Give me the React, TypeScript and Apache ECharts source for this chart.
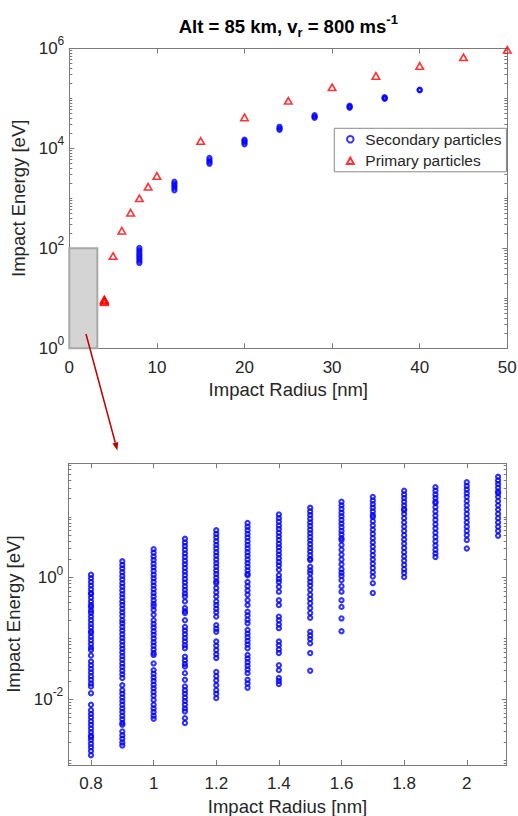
import React, { useEffect, useRef } from 'react';
import * as echarts from 'echarts';

const FONT = '"Liberation Sans", Arial, Helvetica, sans-serif';
const BLUE = '#0000ff';
const RED = '#ff0000';
const AXIS_COLOR = '#7a7a7a';
const TEXT_COLOR = '#262626';

const TITLE_TEXT = 'Alt = 85 km, v{sub|r} = 800 ms{sup|-1}';
const X_NAME = 'Impact Radius [nm]';
const Y_NAME = 'Impact Energy [eV]';
const LEGEND_NAMES = ['Secondary particles', 'Primary particles'];

// ---------- top panel ----------
const topXTicks = [0, 10, 20, 30, 40, 50];
const topYExpTicks = [0, 2, 4, 6]; // 10^0 ... 10^6

const primaryRadius = [4, 4, 4, 4, 5, 6, 7, 8, 9, 10, 15, 20, 25, 30, 35, 40, 45, 50];
const primaryEnergy = [8.3, 8.7, 9.1, 9.5, 70, 224, 515, 1000, 1700, 2800, 14000, 41500, 89000, 166000, 280000, 445000, 660000, 930000];

const secondaryRadiusTop = [8, 12, 16, 20, 24, 28, 32, 36, 40];
const secondaryEnergyTop = [
  [51, 56, 62, 68, 75, 83, 92, 102],
  [1450, 1600, 1770, 1950, 2150],
  [4900, 5300, 5800, 6400],
  [12000, 13000, 14000, 14800],
  [23400, 25000, 26900],
  [40700, 43000, 45700],
  [64600, 67500, 70800],
  [97700, 101000, 104700],
  [145000, 148000],
];

const zoomBoxRadius = [0, 3.2];
const zoomBoxEnergy = [1, 100];

// ---------- bottom panel (log10 of impact energy in eV) ----------
const bottomXTicks = [0.8, 1, 1.2, 1.4, 1.6, 1.8, 2];
const bottomYExpTicks = [-2, 0];
const bottomRadius = [0.8, 0.9, 1.0, 1.1, 1.2, 1.3, 1.4, 1.5, 1.6, 1.7, 1.8, 1.9, 2.0, 2.1];

const log10E_08 = [0.05, -0.01, -0.07, -0.13, -0.19, -0.25, -0.27, -0.33, -0.39, -0.45, -0.48, -0.54, -0.58, -0.64, -0.70, -0.76, -0.82, -0.88, -0.91, -0.97, -1.03, -1.09, -1.15, -1.19, -1.28, -1.38, -1.44, -1.50, -1.56, -1.62, -1.68, -1.74, -1.79, -1.90, -2.09, -2.18, -2.24, -2.30, -2.36, -2.42, -2.48, -2.54, -2.60, -2.62, -2.67, -2.73, -2.79, -2.85, -2.92];
const log10E_09 = [0.27, 0.21, 0.15, 0.09, 0.03, -0.03, -0.09, -0.15, -0.21, -0.27, -0.33, -0.39, -0.45, -0.51, -0.57, -0.63, -0.70, -0.75, -0.81, -0.87, -0.93, -0.99, -1.05, -1.11, -1.17, -1.23, -1.29, -1.35, -1.41, -1.47, -1.53, -1.59, -1.65, -1.77, -1.85, -1.91, -1.97, -2.03, -2.09, -2.15, -2.21, -2.27, -2.33, -2.39, -2.42, -2.53, -2.59, -2.65, -2.71, -2.76];
const log10E_10 = [0.47, 0.41, 0.35, 0.29, 0.23, 0.17, 0.11, 0.05, -0.01, -0.07, -0.13, -0.19, -0.25, -0.31, -0.37, -0.43, -0.47, -0.53, -0.61, -0.70, -0.76, -0.82, -0.88, -0.94, -1.00, -1.06, -1.12, -1.18, -1.24, -1.27, -1.41, -1.52, -1.58, -1.64, -1.70, -1.76, -1.82, -1.88, -1.94, -2.01, -2.09, -2.15, -2.21, -2.27, -2.32];
const log10E_11 = [0.64, 0.58, 0.52, 0.46, 0.40, 0.34, 0.28, 0.22, 0.16, 0.10, 0.04, -0.02, -0.08, -0.14, -0.20, -0.26, -0.31, -0.39, -0.50, -0.55, -0.58, -0.70, -0.81, -0.87, -0.93, -0.99, -1.05, -1.11, -1.16, -1.30, -1.36, -1.42, -1.46, -1.57, -1.68, -1.79, -1.85, -1.91, -1.97, -2.03, -2.09, -2.15, -2.20, -2.31, -2.39];
const log10E_12 = [0.78, 0.72, 0.66, 0.60, 0.54, 0.48, 0.42, 0.36, 0.30, 0.24, 0.18, 0.12, 0.06, 0.00, -0.06, -0.09, -0.17, -0.24, -0.31, -0.39, -0.45, -0.51, -0.57, -0.64, -0.78, -0.84, -0.89, -1.05, -1.12, -1.19, -1.26, -1.32, -1.55, -1.62, -1.69, -1.77, -1.85, -1.91, -1.98];
const log10E_13 = [0.90, 0.84, 0.78, 0.72, 0.66, 0.60, 0.54, 0.48, 0.42, 0.36, 0.30, 0.24, 0.18, 0.12, 0.06, 0.04, -0.07, -0.14, -0.21, -0.28, -0.37, -0.45, -0.56, -0.62, -0.69, -0.75, -0.86, -0.92, -0.98, -1.04, -1.10, -1.16, -1.27, -1.33, -1.39, -1.45, -1.51, -1.57, -1.68, -1.74, -1.81];
const log10E_14 = [1.04, 0.98, 0.92, 0.86, 0.80, 0.74, 0.68, 0.62, 0.56, 0.50, 0.44, 0.38, 0.32, 0.26, 0.20, 0.13, 0.04, -0.02, -0.07, -0.15, -0.23, -0.37, -0.45, -0.64, -0.70, -0.77, -0.83, -1.05, -1.11, -1.18, -1.24, -1.44, -1.52, -1.65, -1.70, -1.75];
const log10E_15 = [1.15, 1.09, 1.03, 0.97, 0.91, 0.85, 0.79, 0.73, 0.67, 0.61, 0.55, 0.49, 0.43, 0.37, 0.31, 0.29, 0.18, 0.12, 0.07, -0.01, -0.07, -0.13, -0.20, -0.28, -0.35, -0.42, -0.50, -0.58, -0.66, -0.89, -0.95, -1.01, -1.08, -1.24, -1.53];
const log10E_16 = [1.25, 1.19, 1.13, 1.07, 1.01, 0.95, 0.89, 0.83, 0.77, 0.71, 0.65, 0.62, 0.54, 0.46, 0.38, 0.30, 0.22, 0.14, 0.08, 0.03, -0.04, -0.14, -0.23, -0.37, -0.48, -0.67, -0.88];
const log10E_17 = [1.33, 1.27, 1.21, 1.15, 1.09, 1.03, 1.00, 0.93, 0.86, 0.79, 0.72, 0.65, 0.58, 0.51, 0.44, 0.37, 0.30, 0.23, 0.16, 0.09, 0.02, -0.09, -0.25];
const log10E_18 = [1.43, 1.37, 1.31, 1.25, 1.19, 1.13, 1.11, 1.05, 0.98, 0.91, 0.84, 0.77, 0.70, 0.63, 0.56, 0.49, 0.42, 0.35, 0.28, 0.21, 0.14, 0.08, 0.01];
const log10E_19 = [1.49, 1.43, 1.37, 1.31, 1.25, 1.23, 1.16, 1.09, 1.02, 0.95, 0.88, 0.81, 0.74, 0.67, 0.60, 0.53, 0.46, 0.40, 0.34];
const log10E_20 = [1.57, 1.51, 1.45, 1.39, 1.33, 1.26, 1.19, 1.12, 1.05, 0.98, 0.91, 0.84, 0.77, 0.70, 0.62, 0.48];
const log10E_21 = [1.66, 1.60, 1.54, 1.48, 1.42, 1.39, 1.33, 1.26, 1.19, 1.12, 1.05, 0.98, 0.91, 0.84, 0.77, 0.69];

const bottomColumns = [log10E_08, log10E_09, log10E_10, log10E_11, log10E_12, log10E_13, log10E_14, log10E_15, log10E_16, log10E_17, log10E_18, log10E_19, log10E_20, log10E_21];

// ---------- helpers ----------
function minorLogTicks(lo: number, hi: number, majors: number[]) {
  const out: number[] = [];
  for (let n = Math.floor(lo) - 1; n <= Math.ceil(hi); n++) {
    for (let k = 1; k <= 9; k++) {
      const v = n + Math.log10(k);
      if (v < lo || v > hi) continue;
      if (majors.some((m) => Math.abs(m - v) < 1e-9)) continue;
      out.push(v);
    }
  }
  return out;
}

const supLabelRich = {
  sup: { fontSize: 12, fontFamily: FONT, color: TEXT_COLOR, verticalAlign: 'top', lineHeight: 13 },
};

function buildOption() {
  const topYMin = 0, topYMax = 6;
  const botYMin = -3.081, botYMax = 1.882;
  const botXMin = 0.7275, botXMax = 2.1275;

  const primaryData = primaryRadius.map((r, i) => [r, Math.log10(primaryEnergy[i])]);
  const secondaryTopData: number[][] = [];
  secondaryRadiusTop.forEach((r, i) => secondaryEnergyTop[i].forEach((e) => secondaryTopData.push([r, Math.log10(e)])));
  const bottomData: number[][] = [];
  bottomRadius.forEach((r, i) => bottomColumns[i].forEach((l) => bottomData.push([r, l])));

  const lineStyle = { color: AXIS_COLOR, width: 1 };
  const xLabelStyle = { fontSize: 17, color: TEXT_COLOR, fontFamily: FONT };
  const nameStyle = { fontSize: 18.5, color: TEXT_COLOR, fontFamily: FONT };

  const makeX = (gridIndex: number, min: number, max: number, ticks: number[], position: string, labels: boolean, margin: number) => ({
    type: 'value', gridIndex, min, max, position,
    axisLine: { show: true, onZero: false, lineStyle },
    axisTick: { show: true, inside: true, length: 5, customValues: ticks, lineStyle },
    axisLabel: labels
      ? { show: true, customValues: ticks, margin, ...xLabelStyle, formatter: (v: number) => String(Math.round(v * 10) / 10) }
      : { show: false },
    splitLine: { show: false },
    ...(labels ? { name: X_NAME, nameLocation: 'middle', nameGap: 32, nameTextStyle: nameStyle } : {}),
  });

  const makeY = (gridIndex: number, min: number, max: number, ticks: number[], position: string, labels: boolean, tickLen: number, showLine: boolean, nameGap: number) => ({
    type: 'value', gridIndex, min, max, position,
    axisLine: { show: showLine, onZero: false, lineStyle },
    axisTick: { show: true, inside: true, length: tickLen, customValues: ticks, lineStyle },
    axisLabel: labels
      ? {
          show: true, customValues: ticks, margin: 5, fontSize: 17, lineHeight: 26, color: TEXT_COLOR, fontFamily: FONT,
          formatter: (v: number) => '10{sup|' + String(Math.round(v)) + '}',
          rich: supLabelRich,
        }
      : { show: false },
    splitLine: { show: false },
    ...(labels ? { name: Y_NAME, nameLocation: 'middle', nameGap, nameTextStyle: nameStyle } : {}),
  });

  const topMinor = minorLogTicks(topYMin, topYMax, topYExpTicks);
  const botMinor = minorLogTicks(botYMin, botYMax, bottomYExpTicks);

  const ringStyle = { color: 'transparent', borderColor: BLUE, borderWidth: 2.1 };

  return {
    animation: false,
    backgroundColor: '#ffffff',
    textStyle: { fontFamily: FONT },
    grid: [
      { left: 69.3, top: 48.3, width: 438, height: 300, outerBoundsMode: 'none', containLabel: false },
      { left: 68.3, top: 463.3, width: 438.4, height: 301.7, outerBoundsMode: 'none', containLabel: false },
    ],
    xAxis: [
      makeX(0, 0, 50, topXTicks, 'bottom', true, 11),
      makeX(0, 0, 50, topXTicks, 'top', false, 0),
      makeX(1, botXMin, botXMax, bottomXTicks, 'bottom', true, 9.5),
      makeX(1, botXMin, botXMax, bottomXTicks, 'top', false, 0),
    ],
    yAxis: [
      makeY(0, topYMin, topYMax, topYExpTicks, 'left', true, 5, true, 32),
      makeY(0, topYMin, topYMax, topYExpTicks, 'right', false, 5, true, 0),
      makeY(0, topYMin, topYMax, topMinor, 'left', false, 3, false, 0),
      makeY(0, topYMin, topYMax, topMinor, 'right', false, 3, false, 0),
      makeY(1, botYMin, botYMax, bottomYExpTicks, 'left', true, 5, true, 39),
      makeY(1, botYMin, botYMax, bottomYExpTicks, 'right', false, 5, true, 0),
      makeY(1, botYMin, botYMax, botMinor, 'left', false, 3, false, 0),
      makeY(1, botYMin, botYMax, botMinor, 'right', false, 3, false, 0),
    ],
    legend: {
      data: LEGEND_NAMES,
      orient: 'vertical',
      left: 334.3,
      top: 128.3,
      padding: [2, 5, 2, 11.5],
      itemGap: 3.5,
      itemWidth: 7,
      itemHeight: 6.5,
      borderColor: '#8a8a8a',
      borderWidth: 1,
      borderRadius: 0,
      backgroundColor: '#ffffff',
      selectedMode: false,
      textStyle: { fontSize: 15.5, lineHeight: 18, color: TEXT_COLOR, fontFamily: FONT, padding: [0, 0, 0, 6.5] },
    },
    graphic: [
      {
        type: 'text',
        x: 288.3,
        y: 26,
        z: 100,
        style: {
          text: TITLE_TEXT,
          fill: '#000000',
          fontSize: 18.5,
          fontWeight: 'bold',
          fontFamily: FONT,
          lineHeight: 26,
          align: 'center',
          verticalAlign: 'middle',
          rich: {
            sub: { fontSize: 13, fontWeight: 'bold', fontFamily: FONT, fill: '#000', verticalAlign: 'bottom', lineHeight: 11 },
            sup: { fontSize: 13, fontWeight: 'bold', fontFamily: FONT, fill: '#000', verticalAlign: 'top', lineHeight: 12 },
          },
        },
      },
      {
        type: 'line',
        z: 100,
        shape: { x1: 86, y1: 334, x2: 115.3, y2: 442.8 },
        style: { stroke: '#c00000', lineWidth: 1.5 },
      },
      {
        type: 'polygon',
        z: 100,
        shape: { points: [[117.4, 450.5], [112.4, 443.6], [118.2, 442.0]] },
        style: { fill: '#c00000' },
      },
    ],
    series: [
      {
        name: LEGEND_NAMES[0],
        type: 'scatter',
        xAxisIndex: 0,
        yAxisIndex: 0,
        data: secondaryTopData,
        symbol: 'circle',
        symbolSize: 4.2,
        silent: true,
        itemStyle: ringStyle,
        markArea: {
          silent: true,
          z: 1,
          itemStyle: { color: '#d4d4d4', borderColor: '#a8a8a8', borderWidth: 2 },
          data: [[
            { coord: [zoomBoxRadius[0], Math.log10(zoomBoxEnergy[0])] },
            { coord: [zoomBoxRadius[1], Math.log10(zoomBoxEnergy[1])] },
          ]],
        },
      },
      {
        name: LEGEND_NAMES[1],
        type: 'scatter',
        xAxisIndex: 0,
        yAxisIndex: 0,
        data: primaryData,
        symbol: 'triangle',
        symbolSize: [7.5, 6.5],
        silent: true,
        itemStyle: { color: 'transparent', borderColor: RED, borderWidth: 1.6 },
      },
      {
        name: 'Secondary particles (zoom)',
        type: 'scatter',
        xAxisIndex: 2,
        yAxisIndex: 4,
        data: bottomData,
        symbol: 'circle',
        symbolSize: 4.2,
        silent: true,
        itemStyle: ringStyle,
      },
    ],
  };
}

export default function App() {
  const ref = useRef<HTMLDivElement>(null);
  useEffect(() => {
    if (!ref.current) return;
    const chart = echarts.init(ref.current, null, { renderer: 'svg' });
    chart.setOption(buildOption() as any);
    return () => chart.dispose();
  }, []);
  return (
    <div
      ref={ref}
      style={{ position: 'absolute', left: 0, top: 0, width: 518, height: 816, background: '#ffffff' }}
    />
  );
}
